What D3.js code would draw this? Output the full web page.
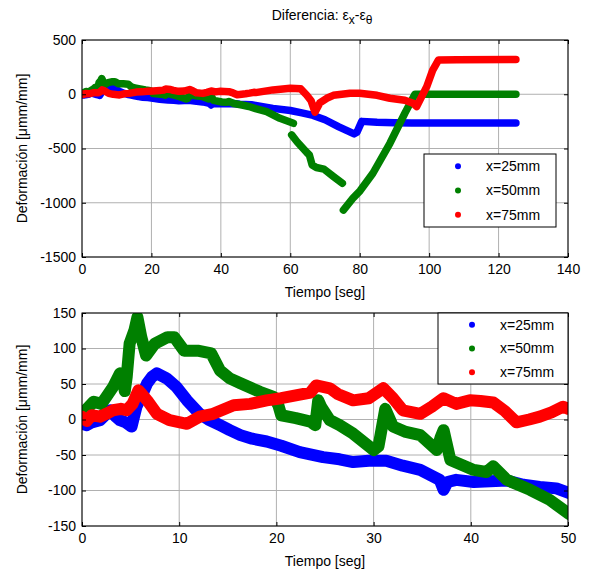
<!DOCTYPE html>
<html>
<head>
<meta charset="utf-8">
<script src="https://cdn.jsdelivr.net/npm/d3@7"></script>
<style>
  body { margin: 0; background: #fff; }
  svg { display: block; font-family: "Liberation Sans", Arial, sans-serif; }
</style>
</head>
<body>
<svg id="chart" width="590" height="572"></svg>
<script>
// series names
const SERIES = ['x=25mm', 'x=50mm', 'x=75mm']
const COLORS = ['#0000ff', '#008000', '#ff0000']

// [tiempo, deformacion]; null = gap in the marker trace
const x25 = [
  [0, -6], [0.5, -8], [1, -4], [1.85, -1], [2.9, 13], [3.4, 5], [3.9, -1], [4.5, -4],
  [5.1, -10], [5.6, 18], [6.2, 35], [6.7, 51], [7.2, 60], [7.7, 65], [8.7, 58], [9.7, 46],
  [10.8, 27], [12.1, 8], [13, 0], [14.2, -8], [15.2, -15], [16.3, -22], [17.5, -27],
  [19, -31], [20.5, -37], [22.4, -46], [24.8, -53], [26.5, -56], [27.9, -60], [29.5, -58],
  [31.3, -58], [33, -65], [34.8, -71], [36.1, -80], [36.8, -85], [37.2, -99], [37.6, -88],
  [38.5, -85], [40.3, -88], [42, -87], [43.7, -86], [45.4, -92], [47.1, -95], [48.8, -97],
  [50, -103],
  [55, -130], [60, -150], [63, -170], [66.6, -195], [70, -235], [74, -300], [78.4, -365],
  [79.2, -350], [80.6, -250], [85, -258], [90, -263], [95, -265], [100, -265], [110, -265],
  [125, -265]
]
const x50 = [
  [0, 5], [0.5, 15], [1.2, 25], [2, 22], [2.5, 32], [3.2, 46], [3.9, 65], [4.2, 60],
  [4.4, 40], [4.6, 60], [4.9, 107], [5.4, 126], [5.7, 144], [6.1, 116], [6.6, 90],
  [7.5, 107], [8.8, 116], [9.5, 116], [10.5, 97], [11.9, 97], [13.3, 93], [14.2, 69],
  [15.2, 58], [16.3, 51], [18.3, 39], [19.7, 32], [20.2, 20], [20.5, 6], [22, 2],
  [23.5, -3], [24, -8], [24.3, 27], [24.6, 18], [25.5, -1], [26.5, -8], [27.9, -20],
  [30, -43], [30.5, -38], [31.2, 15], [32, -10], [33.2, -17], [34.8, -22], [36.5, -43],
  [36.9, -25], [37.2, -15], [37.9, -57], [40.3, -71], [41.6, -74], [42.3, -66],
  [43.7, -85], [46.1, -99], [48.1, -113], [50, -132],
  [53.2, -160], [57, -222], [60.9, -268], null,
  [60.4, -375], [62, -440], [64.7, -535], [65.5, -560], [66.3, -652], [67.5, -675],
  [69.7, -690], [72.5, -760], [75, -821], null,
  [75.3, -1067], [78, -960], [80.1, -890], [83.8, -728], [88.7, -452], [93, -175],
  [95.9, 0], [100, 0], [110, 0], [125, 0]
]
const x75 = [
  [0, 4], [0.5, -2], [1, 6], [1.85, 4], [2.5, 8], [3.2, 13], [4, 15], [4.6, 13], [5.2, 22],
  [5.8, 41], [6.2, 35], [6.7, 27], [7.7, 8], [9, -1], [10.8, -6], [12.1, 4], [13.5, 8],
  [15.6, 20], [17.3, 22], [19, 27], [20.5, 30], [22.4, 35], [23.5, 38], [24.1, 48],
  [25.5, 44], [26.3, 36], [27.9, 27], [29.5, 30], [31, 44], [32, 30], [33, 13],
  [34.8, 8], [36, 18], [37.2, 30], [38.5, 22], [39.9, 27], [41, 26], [42.3, 24],
  [43.5, 12], [44.7, -4], [46, 0], [47.1, 4], [48.3, 10], [49.5, 18], [50, 15],
  [55, 40], [60, 55], [63, 50], [64.7, -7], [66, -60], [67.1, -165], [68.5, -80],
  [70.5, -37], [72.4, -10], [77.2, 9], [80, 10], [85, -10], [88.7, -37], [93, -55],
  [95.4, -83], [96.4, -114], [99.3, 70], [101, 220], [102.7, 316], [108, 318], [125, 320]
]
const allSeries = [x25, x50, x75]

const xTicksTop = [0, 20, 40, 60, 80, 100, 120, 140]
const yTicksTop = [-1500, -1000, -500, 0, 500]
const xTicksBot = [0, 10, 20, 30, 40, 50]
const yTicksBot = [-150, -100, -50, 0, 50, 100, 150]

const svg = d3.select('#chart')

function drawPanel({box, xDomain, yDomain, xTicks, yTicks, lineWidth, legendBox, id}) {
  const x = d3.scaleLinear().domain(xDomain).range([box.left, box.right])
  const y = d3.scaleLinear().domain(yDomain).range([box.bottom, box.top])
  const g = svg.append('g')

  g.append('clipPath').attr('id', id)
    .append('rect')
    .attr('x', box.left).attr('y', box.top)
    .attr('width', box.right - box.left).attr('height', box.bottom - box.top)

  // grid
  g.selectAll('.gx').data(xTicks).enter().append('line')
    .attr('x1', (d) => x(d)).attr('x2', (d) => x(d))
    .attr('y1', box.top).attr('y2', box.bottom)
    .attr('stroke', '#b0b0b0').attr('stroke-width', 1)
  g.selectAll('.gy').data(yTicks).enter().append('line')
    .attr('y1', (d) => y(d)).attr('y2', (d) => y(d))
    .attr('x1', box.left).attr('x2', box.right)
    .attr('stroke', '#b0b0b0').attr('stroke-width', 1)

  // data
  const line = d3.line()
    .defined((d) => d !== null)
    .x((d) => x(d[0]))
    .y((d) => y(d[1]))
  const dataG = g.append('g').attr('clip-path', `url(#${id})`)
  allSeries.forEach((s, i) => {
    dataG.append('path')
      .attr('d', line(s))
      .attr('fill', 'none')
      .attr('stroke', COLORS[i])
      .attr('stroke-width', lineWidth)
      .attr('stroke-linejoin', 'round')
      .attr('stroke-linecap', 'round')
  })

  // axes (ticks inward)
  const fmt = (d) => String(d)
  const axL = g.append('g').attr('transform', `translate(${box.left},0)`)
    .call(d3.axisLeft(y).tickValues(yTicks).tickSize(-4).tickPadding(6).tickFormat(fmt))
  const axB = g.append('g').attr('transform', `translate(0,${box.bottom})`)
    .call(d3.axisBottom(x).tickValues(xTicks).tickSize(-4).tickPadding(7).tickFormat(fmt))
  g.append('g').attr('transform', `translate(${box.right},0)`)
    .call(d3.axisRight(y).tickValues(yTicks).tickSize(-4).tickFormat(''))
  g.append('g').attr('transform', `translate(0,${box.top})`)
    .call(d3.axisTop(x).tickValues(xTicks).tickSize(-4).tickFormat(''))
  g.selectAll('.domain').remove()
  g.selectAll('.tick line').attr('stroke', '#000')
  axL.selectAll('text').attr('font-size', 14).attr('fill', '#000')
    .attr('font-family', '"Liberation Sans", Arial, sans-serif')
  axB.selectAll('text').attr('font-size', 14).attr('fill', '#000')
    .attr('font-family', '"Liberation Sans", Arial, sans-serif')

  g.append('rect')
    .attr('x', box.left).attr('y', box.top)
    .attr('width', box.right - box.left).attr('height', box.bottom - box.top)
    .attr('fill', 'none').attr('stroke', '#000').attr('stroke-width', 1)

  // labels
  g.append('text')
    .attr('x', (box.left + box.right) / 2).attr('y', box.bottom + 40)
    .attr('text-anchor', 'middle').attr('font-size', 14)
    .text('Tiempo [seg]')
  g.append('text')
    .attr('transform', `translate(27,${(box.top + box.bottom) / 2}) rotate(-90)`)
    .attr('text-anchor', 'middle').attr('font-size', 14)
    .text('Deformación [μmm/mm]')

  // legend
  const lg = g.append('g')
  lg.append('rect')
    .attr('x', legendBox.left).attr('y', legendBox.top)
    .attr('width', legendBox.right - legendBox.left)
    .attr('height', legendBox.bottom - legendBox.top)
    .attr('fill', '#fff').attr('stroke', '#000').attr('stroke-width', 1)
  const rowH = (legendBox.bottom - legendBox.top) / 3
  SERIES.forEach((name, i) => {
    const cy = legendBox.top + rowH * (i + 0.5)
    lg.append('circle')
      .attr('cx', legendBox.left + 34).attr('cy', cy).attr('r', 3)
      .attr('fill', COLORS[i])
    lg.append('text')
      .attr('x', legendBox.left + 62).attr('y', cy).attr('dy', '0.35em')
      .attr('font-size', 14)
      .text(name)
  })
}

drawPanel({
  id: 'clipTop',
  box: {left: 82, right: 568, top: 40, bottom: 257},
  xDomain: [0, 140], yDomain: [-1500, 500],
  xTicks: xTicksTop, yTicks: yTicksTop,
  lineWidth: 7.5,
  legendBox: {left: 424, right: 556, top: 154, bottom: 227},
})

drawPanel({
  id: 'clipBot',
  box: {left: 82, right: 568, top: 313, bottom: 526},
  xDomain: [0, 50], yDomain: [-150, 150],
  xTicks: xTicksBot, yTicks: yTicksBot,
  lineWidth: 12,
  legendBox: {left: 438, right: 568, top: 313, bottom: 384},
})

// title
const title = svg.append('text')
  .attr('x', 322).attr('y', 20)
  .attr('text-anchor', 'middle').attr('font-size', 14)
title.append('tspan').text('Diferencia: ε')
title.append('tspan').attr('dy', 4).attr('font-size', 12).text('x')
title.append('tspan').attr('dy', -4).text('-ε')
title.append('tspan').attr('dy', 4).attr('font-size', 12).text('θ')
</script>
</body>
</html>
